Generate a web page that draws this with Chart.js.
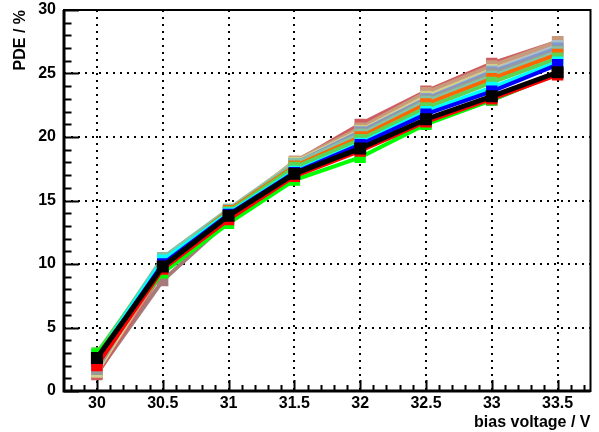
<!DOCTYPE html>
<html>
<head>
<meta charset="utf-8">
<script src="https://cdn.jsdelivr.net/npm/chart.js@4/dist/chart.umd.min.js"></script>
<style>
  html, body { margin: 0; padding: 0; background: #ffffff; }
  #wrap { width: 599px; height: 432px; }
</style>
</head>
<body>
<div id="wrap"><canvas id="c" width="599" height="432"></canvas></div>
<script>
// bias voltage categories (V)
const voltages = [30, 30.5, 31, 31.5, 32, 32.5, 33, 33.5];
const xTickLabels = ["30", "30.5", "31", "31.5", "32", "32.5", "33", "33.5"];
const yTickValues = [0, 5, 10, 15, 20, 25, 30];

// PDE (%) per channel, drawn in this order (last on top)
const chMauve     = [1.4, 8.7, 13.4, 17.4, 20.1, 22.7, 25.0, 26.9];
const chRosy      = [1.3, 9.4, 14.1, 18.0, 21.0, 23.6, 25.8, 27.5];
const chPale      = [1.5, 10.0, 14.3, 18.0, 20.6, 23.4, 25.5, 27.4];
const chTan       = [1.6, 9.5, 14.0, 18.1, 20.7, 23.5, 25.6, 27.5];
const chKhaki     = [1.5, 9.9, 14.2, 18.0, 20.5, 23.2, 25.3, 27.1];
const chSteel     = [1.9, 10.4, 14.2, 17.9, 20.3, 23.0, 25.2, 27.2];
const chGrayBlue  = [1.8, 10.0, 14.1, 17.9, 20.4, 23.0, 25.1, 27.0];
const chGray      = [1.7, 10.2, 14.0, 17.8, 20.3, 22.9, 25.0, 26.8];
const chTeal      = [2.8, 10.5, 14.3, 17.9, 20.2, 22.8, 24.8, 26.7];
const chOrange    = [2.3, 10.1, 14.2, 17.7, 20.0, 22.6, 24.6, 26.5];
const chGreen8    = [3.0, 10.2, 14.1, 17.6, 19.8, 22.3, 24.3, 26.2];
const chCyan      = [2.7, 10.3, 14.0, 17.3, 19.5, 22.0, 23.9, 25.9];
const chBlue      = [2.5, 10.0, 13.9, 17.2, 19.4, 21.8, 23.6, 25.7];
const chMagenta   = [2.4, 9.7, 13.7, 17.0, 19.0, 21.1, 22.9, 25.0];
const chGreen     = [2.9, 9.3, 13.2, 16.6, 18.4, 21.0, 22.9, 25.0];
const chRed       = [2.0, 9.6, 13.5, 16.9, 18.9, 21.2, 23.0, 24.9];
const chBlack     = [2.6, 9.8, 13.8, 17.1, 19.1, 21.4, 23.2, 25.1];

const seriesList = [
  { v: chMauve,    c: "#a67a7a" },
  { v: chRosy,     c: "#cf5e61" },
  { v: chPale,     c: "#c2bfa8" },
  { v: chTan,      c: "#c7997d" },
  { v: chKhaki,    c: "#d4cf87" },
  { v: chSteel,    c: "#adbdc7" },
  { v: chGrayBlue, c: "#7d99d1" },
  { v: chGray,     c: "#999999" },
  { v: chTeal,     c: "#85c2a3" },
  { v: chOrange,   c: "#ff6600" },
  { v: chGreen8,   c: "#59d454" },
  { v: chCyan,     c: "#00ffff" },
  { v: chBlue,     c: "#0000ff" },
  { v: chMagenta,  c: "#ff00ff" },
  { v: chGreen,    c: "#00ff00" },
  { v: chRed,      c: "#ff0000" },
  { v: chBlack,    c: "#000000" }
];

const FONT = "'Liberation Sans', Arial, Helvetica, sans-serif";

const datasets = seriesList.map((s, i) => ({
  data: voltages.map((x, k) => ({ x: x, y: s.v[k] })),
  borderColor: s.c,
  backgroundColor: s.c,
  borderWidth: s.c === "#000000" ? 5 : 4,
  pointStyle: 'rect',
  pointRadius: s.c === "#000000" ? 8.5 : 8,
  pointBorderWidth: 0,
  pointBackgroundColor: s.c,
  fill: false,
  tension: 0,
  order: seriesList.length - i
}));

const framePlugin = {
  id: 'rootFrame',
  afterDraw(chart) {
    const { ctx, chartArea: a, scales } = chart;
    const xs = scales.x, ys = scales.y;
    ctx.save();
    ctx.strokeStyle = '#000';
    ctx.lineWidth = 2;
    ctx.beginPath();
    for (let i = 298; i <= 337; i++) {
      const v = i / 10;
      const px = Math.round(xs.getPixelForValue(v)) + 0.5;
      const major = (i % 5 === 0);
      const len = major ? 11 : 6;
      ctx.moveTo(px, a.bottom);
      ctx.lineTo(px, a.bottom - len);
    }
    for (let j = 0; j <= 30; j++) {
      const py = Math.round(ys.getPixelForValue(j)) + 0.5;
      const major = (j % 5 === 0);
      const len = major ? 15 : 7.5;
      ctx.moveTo(a.left, py);
      ctx.lineTo(a.left + len, py);
    }
    ctx.stroke();
    ctx.lineWidth = 2;
    ctx.strokeRect(a.left, a.top, a.right - a.left, a.bottom - a.top);
    ctx.lineWidth = 3;
    ctx.beginPath();
    ctx.moveTo(a.left, a.top);
    ctx.lineTo(a.left, a.bottom);
    ctx.lineTo(a.right, a.bottom);
    ctx.stroke();
    ctx.restore();
  }
};

new Chart(document.getElementById('c'), {
  type: 'line',
  data: { datasets: datasets },
  plugins: [framePlugin],
  options: {
    responsive: false,
    animation: false,
    devicePixelRatio: 1,
    layout: { padding: { top: 10, right: 6, left: 0, bottom: 0 } },
    plugins: { legend: { display: false }, tooltip: { enabled: false }, title: { display: false } },
    scales: {
      x: {
        type: 'linear',
        min: 29.75,
        max: 33.75,
        afterBuildTicks(scale) {
          scale.ticks = voltages.map(v => ({ value: v }));
        },
        afterFit(scale) { scale.height = 41; scale.paddingLeft = 0; scale.paddingRight = 0; },
        grid: { color: '#000', lineWidth: 2, drawTicks: false },
        border: { display: false, dash: [2, 5] },
        ticks: {
          color: '#000',
          font: { family: FONT, size: 16, weight: 'bold' },
          padding: 3,
          maxRotation: 0,
          autoSkip: false,
          callback: (val) => { const k = voltages.indexOf(val); return k >= 0 ? xTickLabels[k] : ''; }
        },
        title: {
          display: true,
          text: 'bias voltage / V',
          align: 'end',
          color: '#000',
          font: { family: FONT, size: 16, weight: 'bold' },
          padding: { top: 0, bottom: 0 }
        }
      },
      y: {
        type: 'linear',
        min: 0,
        max: 30,
        afterBuildTicks(scale) {
          scale.ticks = yTickValues.map(v => ({ value: v }));
        },
        afterFit(scale) { scale.width = 64; scale.paddingTop = 0; scale.paddingBottom = 0; },
        grid: { color: '#000', lineWidth: 2, drawTicks: false },
        border: { display: false, dash: [2, 5] },
        ticks: {
          color: '#000',
          font: { family: FONT, size: 16, weight: 'bold' },
          padding: 8,
          callback: (val) => String(val)
        },
        title: {
          display: true,
          text: 'PDE / %',
          align: 'end',
          color: '#000',
          font: { family: FONT, size: 16, weight: 'bold' },
          padding: { top: 11, bottom: 0 }
        }
      }
    }
  }
});
</script>
</body>
</html>
